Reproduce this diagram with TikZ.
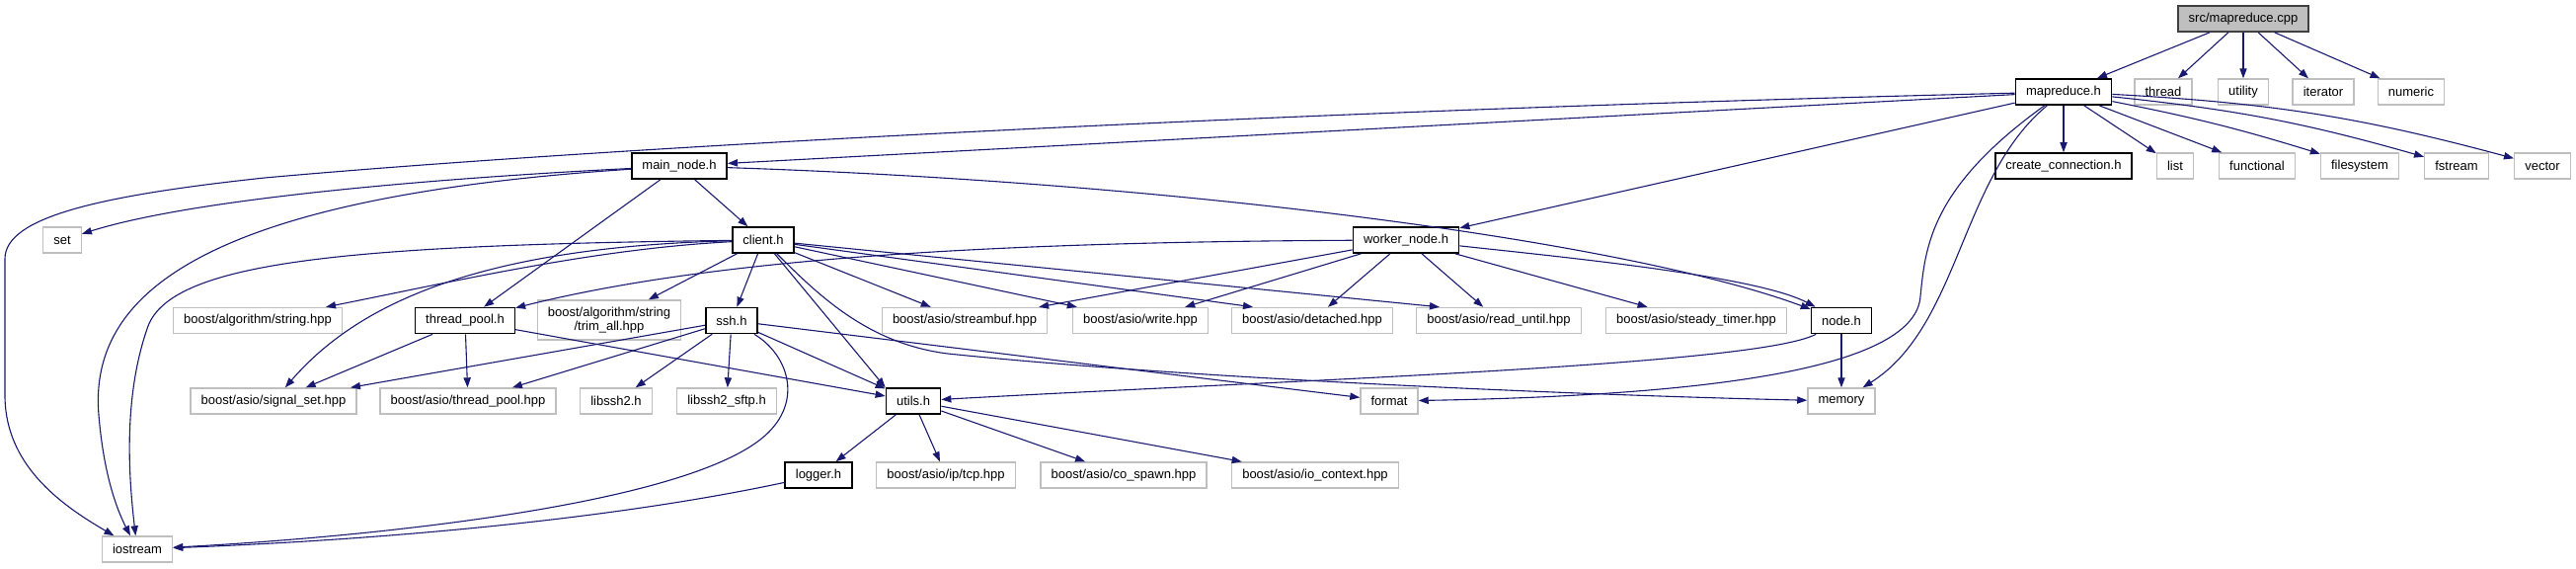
\documentclass[tikz,border=0pt]{standalone}
\usepackage{fontspec}
\setmainfont{Liberation Sans}
\usepackage{tikz}
\usetikzlibrary{arrows.meta,calc}
\definecolor{edge}{HTML}{191970}
\definecolor{greyline}{HTML}{BFBFBF}
\definecolor{rootfill}{HTML}{BFBFBF}
\definecolor{rootline}{HTML}{404040}

\begin{document}
\begin{tikzpicture}[x=0.5pt, y=-0.5pt,
  file/.style={draw=black, line width=0.8pt, fill=white, minimum height=13pt, inner xsep=5.3pt, inner ysep=0pt, font=\fontsize{6.5}{7}\selectfont},
  sys/.style={file, draw=greyline, line width=0.7pt},
  rootfile/.style={file, fill=rootfill, draw=rootline},
  dep/.style={draw=edge, line width=0.55pt, -{Triangle[length=5pt,width=3.6pt]}}
]
  \useasboundingbox (0,0) rectangle (2609,575);

  \node[rootfile] (cpp) at (2272,19) {src/mapreduce.cpp};
  \node[file] (mr) at (2090,93) {mapreduce.h};
  \node[sys] (thread) at (2191,93) {thread};
  \node[sys] (utility) at (2272,93) {utility};
  \node[sys] (iterator) at (2353,93) {iterator};
  \node[sys] (numeric) at (2442,93) {numeric};
  \node[file] (conn) at (2090,168) {create\_connection.h};
  \node[sys] (list) at (2203,168) {list};
  \node[sys] (functional) at (2286,168) {functional};
  \node[sys] (filesystem) at (2390,168) {filesystem};
  \node[sys] (fstream) at (2488,168) {fstream};
  \node[sys] (vector) at (2575,168) {vector};
  \node[file] (mainnode) at (688,168) {main\_node.h};
  \node[sys] (set) at (63,243) {set};
  \node[file] (client) at (773,243) {client.h};
  \node[file] (worker) at (1424,243) {worker\_node.h};
  \node[sys] (algstr) at (261,324.5) {boost/algorithm/string.hpp};
  \node[file] (pool) at (471,324.5) {thread\_pool.h};
  \node[sys, align=center, minimum height=20pt] (trim) at (617,324) {boost/algorithm/string\\/trim\_all.hpp};
  \node[file] (ssh) at (741,324.5) {ssh.h};
  \node[sys] (streambuf) at (977,324.5) {boost/asio/streambuf.hpp};
  \node[sys] (write) at (1155,324.5) {boost/asio/write.hpp};
  \node[sys] (detached) at (1329,324.5) {boost/asio/detached.hpp};
  \node[sys] (readuntil) at (1518,324.5) {boost/asio/read\_until.hpp};
  \node[sys] (timer) at (1718,324.5) {boost/asio/steady\_timer.hpp};
  \node[file] (nodeh) at (1865,324.5) {node.h};
  \node[sys] (sigset) at (277,406) {boost/asio/signal\_set.hpp};
  \node[sys] (poolhpp) at (474,406) {boost/asio/thread\_pool.hpp};
  \node[sys] (libssh) at (624,406) {libssh2.h};
  \node[sys] (sftp) at (736,406) {libssh2\_sftp.h};
  \node[file] (utils) at (925,406) {utils.h};
  \node[sys] (format) at (1407,406) {format};
  \node[sys] (memory) at (1865,406) {memory};
  \node[file] (logger) at (829,481) {logger.h};
  \node[sys] (tcp) at (958,481) {boost/asio/ip/tcp.hpp};
  \node[sys] (cospawn) at (1138,481) {boost/asio/co\_spawn.hpp};
  \node[sys] (ioctx) at (1332,481) {boost/asio/io\_context.hpp};
  \node[sys] (iostream) at (139,556) {iostream};

  \foreach \t in {mr,thread,utility,iterator,numeric}
    \draw[dep] (cpp) -- (\t);

  \draw[dep] (mr) -- (conn);
  \draw[dep] (mr) -- (list);
  \draw[dep] (mr) -- (functional);
  \draw[dep] (mr) to[bend left=3] (filesystem);
  \draw[dep] (mr) to[bend left=5] (fstream);
  \draw[dep] (mr) to[bend left=6] (vector);
  \draw[dep] (mr) -- (mainnode);
  \draw[dep] (mr) -- (worker);
  \draw[dep] (mr) .. controls (1300,112) and (600,150) .. (268,180)
    .. controls (100,198) and (5,220) .. (5,262) -- (5,400)
    .. controls (5,470) and (60,510) .. (iostream);
  \draw[dep] (mr) .. controls (1955,190) and (1950,250) .. (1945,300)
    .. controls (1940,370) and (1750,400) .. (format);
  \draw[dep] (mr) .. controls (1985,180) and (1985,330) .. (memory);

  \draw[dep] (mainnode) .. controls (450,180) and (200,200) .. (set);
  \draw[dep] (mainnode) .. controls (200,200) and (90,300) .. (100,420)
    .. controls (105,480) and (118,515) .. (iostream);
  \draw[dep] (mainnode) -- (pool);
  \draw[dep] (mainnode) -- (client);
  \draw[dep] (mainnode) .. controls (1200,185) and (1650,245) .. (nodeh);

  \draw[dep] (client) .. controls (600,252) and (460,285) .. (algstr);
  \draw[dep] (client) .. controls (480,250) and (360,310) .. (sigset);
  \draw[dep] (client) .. controls (350,248) and (175,265) .. (150,330)
    .. controls (125,400) and (130,480) .. (iostream);
  \draw[dep] (client) -- (trim);
  \draw[dep] (client) -- (ssh);
  \draw[dep] (client) -- (utils.north west);
  \draw[dep] (client) -- (streambuf);
  \draw[dep] (client) -- (write);
  \draw[dep] (client) -- ($(detached.north)+(-60,0)$);
  \draw[dep] (client) -- ($(readuntil.north)+(-60,0)$);
  \draw[dep] (client) .. controls (830,300) and (880,348) .. (960,358)
    .. controls (1200,383) and (1600,400) .. (memory);

  \draw[dep] (ssh) -- (sigset);
  \draw[dep] (ssh) -- (poolhpp);
  \draw[dep] (ssh) -- (libssh);
  \draw[dep] (ssh) -- (sftp);
  \draw[dep] (ssh) -- (utils);
  \draw[dep] (ssh) -- (format);
  \draw[dep] (ssh) .. controls (800,360) and (815,410) .. (770,445)
    .. controls (680,515) and (350,545) .. (iostream);

  \draw[dep] (pool) -- (sigset);
  \draw[dep] (pool) -- (poolhpp);
  \draw[dep] (pool) -- (utils);

  \draw[dep] (worker) .. controls (1000,245) and (720,262) .. (pool);
  \draw[dep] (worker) -- (streambuf);
  \draw[dep] (worker) -- (write);
  \draw[dep] (worker) -- (detached);
  \draw[dep] (worker) -- (readuntil);
  \draw[dep] (worker) -- (timer);
  \draw[dep] (worker) .. controls (1600,262) and (1780,280) .. (nodeh);

  \draw[dep] (nodeh) -- (memory);
  \draw[dep] (nodeh) .. controls (1780,370) and (1300,385) .. (utils);

  \draw[dep] (utils) -- (logger);
  \draw[dep] (utils) -- (tcp);
  \draw[dep] (utils) -- (cospawn);
  \draw[dep] (utils) -- (ioctx);

  \draw[dep] (logger) .. controls (600,530) and (350,548) .. (iostream);
\end{tikzpicture}
\end{document}
